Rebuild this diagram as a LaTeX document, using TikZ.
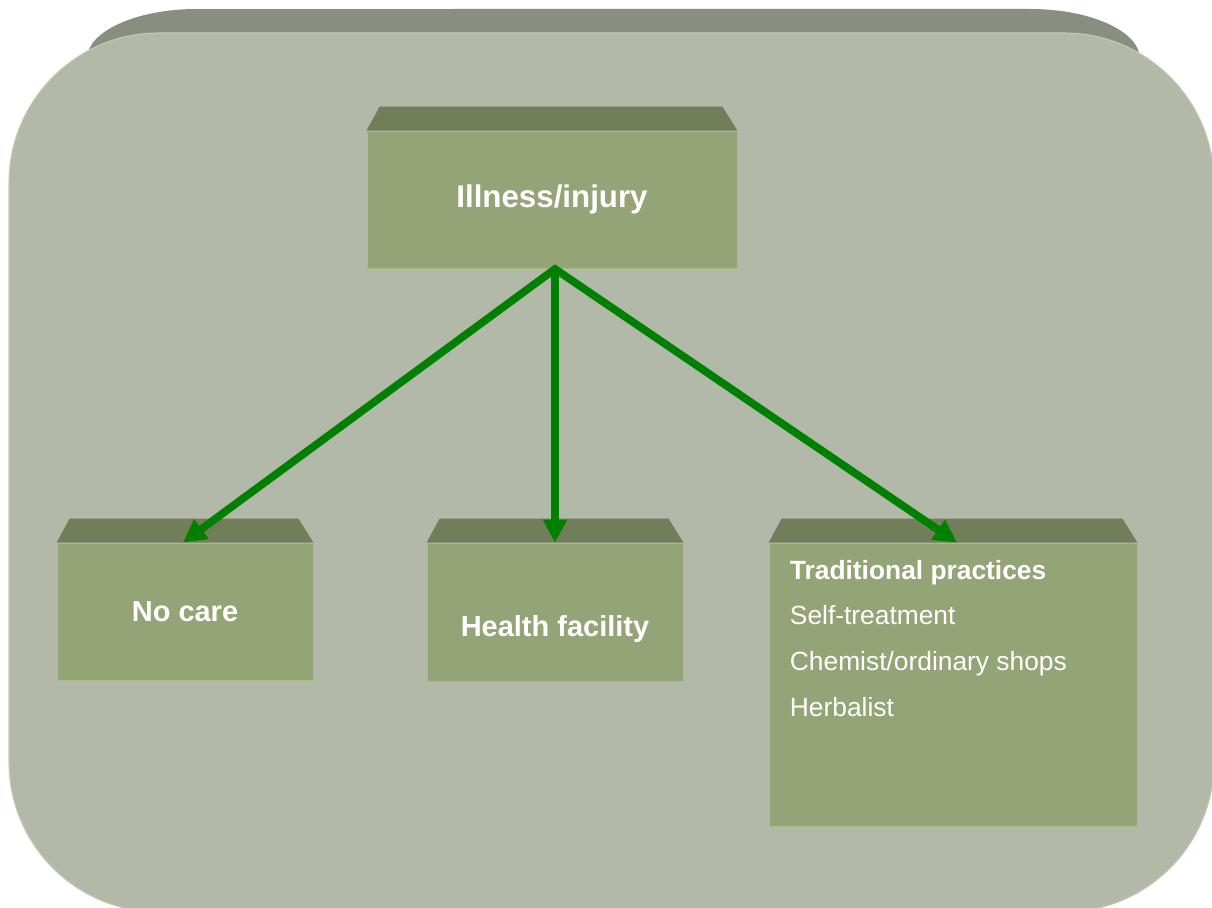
\documentclass[tikz,border=0pt]{standalone}
\usepackage{fontspec}
\setmainfont{Liberation Sans}
\usetikzlibrary{arrows.meta}

\definecolor{bgface}{HTML}{B2B9A8}
\definecolor{bgtop}{HTML}{8A8E80}
\definecolor{bgedge}{HTML}{C3CCB3}
\definecolor{boxface}{HTML}{94A476}
\definecolor{boxtop}{HTML}{727D5A}
\definecolor{boxedge}{HTML}{A9BC86}
\definecolor{linkgreen}{HTML}{008000}

\begin{document}
\begin{tikzpicture}[x=0.02cm,y=-0.02cm,
    face/.style={fill=boxface,draw=boxedge,line width=0.5pt,inner sep=0pt,
        text=white,font=\fontsize{16.5}{20}\selectfont\bfseries},
    lbl/.style={text=white,inner sep=0pt,font=\fontsize{16.5}{20}\selectfont\bfseries},
    link/.style={draw=linkgreen,line width=4.4pt,miter limit=20,
        -{Triangle[length=13pt,width=13pt]}}]

    \useasboundingbox (0,0) rectangle (1212,908);

    % backdrop with its bevel
    \fill[bgtop] (87,59) arc[start angle=180,end angle=90,x radius=2.2cm,y radius=1cm]
        -- (1030,9) arc[start angle=90,end angle=0,x radius=2.2cm,y radius=1cm]
        -- (1140,300) -- (87,300) -- cycle;
    \filldraw[fill=bgface,draw=bgedge,line width=0.6pt,rounded corners=3cm] (9,33) rectangle (1214,912);

    % boxes
    \node[face,minimum width=7.4cm,minimum height=2.74cm,
        font=\fontsize{17.8}{21}\selectfont\bfseries] (ill) at (552,199.5) {Illness/injury};
    \node[face,minimum width=5.12cm,minimum height=2.74cm] (none) at (185,611.5) {No care};
    \node[face,minimum width=5.12cm,minimum height=2.76cm] (hf) at (555,612) {};
    \node[face,minimum width=7.36cm,minimum height=5.66cm] (trad) at (953,684.5) {};

    \foreach \b in {ill,none,hf,trad}{
        \fill[boxtop] (\b.north west) -- ++(0.26cm,0.48cm)
            -- ([shift={(-0.3cm,0.48cm)}]\b.north east) -- (\b.north east) -- cycle;
    }

    \node[lbl] (hftext) at ([yshift=-0.34cm]hf.center) {Health facility};
    \node[lbl,anchor=north west,align=left,font=\fontsize{15}{26}\selectfont]
        (tradtext) at ([shift={(0.42cm,-0.34cm)}]trad.north west)
        {\textbf{Traditional practices}\\Self-treatment\\Chemist/ordinary shops\\Herbalist};

    % arrows
    \coordinate (fork) at (555,269);
    \draw[link,{Triangle[length=13pt,width=13pt]}-{Triangle[length=13pt,width=13pt]}]
        ([xshift=-0.04cm]none.north) -- (fork) -- ([xshift=0.08cm]trad.north);
    \draw[link] (fork) -- (hf.north);

\end{tikzpicture}
\end{document}
